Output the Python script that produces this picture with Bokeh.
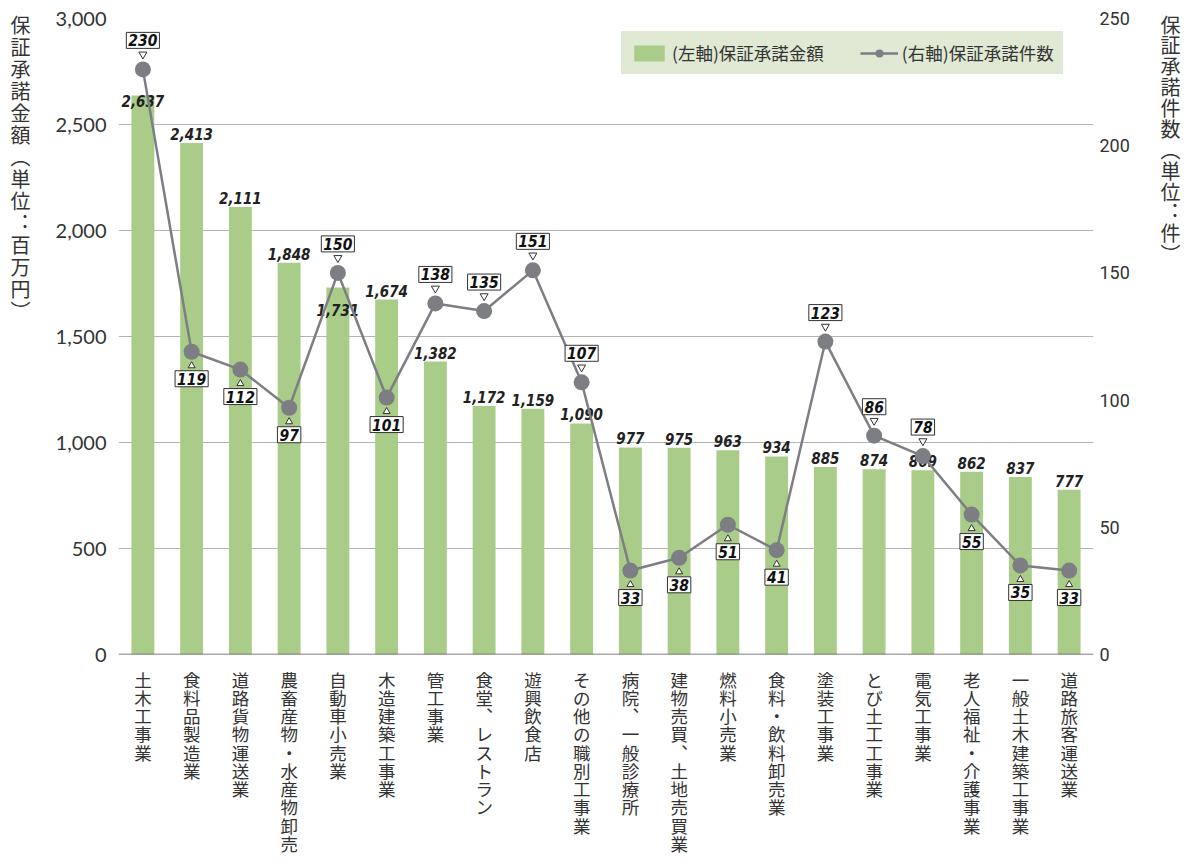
from bokeh.plotting import figure
from bokeh.layouts import row, column
from bokeh.models import (FactorRange, Range1d, LinearAxis, SingleIntervalTicker,
                          NumeralTickFormatter, Legend, LegendItem, ColumnDataSource, Span)
from bokeh.core.properties import value
from bokeh.embed import file_html
from bokeh.resources import INLINE

# ---------------- data ----------------
categories = ["土木工事業", "食料品製造業", "道路貨物運送業", "農畜産物・水産物卸売",
              "自動車小売業", "木造建築工事業", "管工事業", "食堂、レストラン", "遊興飲食店",
              "その他の職別工事業", "病院、一般診療所", "建物売買、土地売買業", "燃料小売業",
              "食料・飲料卸売業", "塗装工事業", "とび土工工事業", "電気工事業",
              "老人福祉・介護事業", "一般土木建築工事業", "道路旅客運送業"]
amounts = [2637, 2413, 2111, 1848, 1731, 1674, 1382, 1172, 1159, 1090,
           977, 975, 963, 934, 885, 874, 869, 862, 837, 777]
counts = [230, 119, 112, 97, 150, 101, 138, 135, 151, 107,
          33, 38, 51, 41, 123, 86, 78, 55, 35, 33]
count_above = [True, False, False, False, True, False, True, True, True, True,
               False, False, False, False, True, True, True, False, False, False]

left_title = "保証承諾金額(単位：百万円)"
right_title = "保証承諾件数(単位：件)"
legend_left = "(左軸)保証承諾金額"
legend_right = "(右軸)保証承諾件数"

# ---------------- style ----------------
BAR = "#a9cd88"
LINE = "#7d7d84"
GRID = "#b4b4b4"
TXT = "#333333"
LEG_BG = "#dfe9d3"
JP = "Noto Sans CJK JP"
NUM = "DejaVu Sans Condensed, Roboto"
# amount labels drawn inside the bar top (px below top); others sit above
inside_offset = {"土木工事業": 0, "自動車小売業": 16}

FRAME_W, FRAME_H = 975, 636
LEFT_W, RIGHT_W = 50, 48
BORDER_L, BORDER_R, BORDER_T, BORDER_B = 68, 50, 18, 12
BOTTOM_H = 863 - BORDER_T - FRAME_H - BORDER_B
TOTAL_H = BORDER_T + FRAME_H + BORDER_B + BOTTOM_H
CMAX = 250
px = CMAX / FRAME_H  # count-units per pixel


def vertical(s):
    rep = {"(": "︵", ")": "︶", "：": "︓", "、": "︑"}
    return "\n".join(rep.get(c, c) for c in s)


src = ColumnDataSource(dict(cat=categories, amount=amounts, count=counts))
xr = FactorRange(*categories)

p = figure(x_range=xr, y_range=Range1d(0, 3000),
           frame_width=FRAME_W, frame_height=FRAME_H,
           min_border_left=BORDER_L, min_border_right=BORDER_R,
           min_border_top=BORDER_T, min_border_bottom=BORDER_B,
           x_axis_location=None,
           output_backend="svg", toolbar_location=None)
p.outline_line_color = None
p.extra_y_ranges = {"count": Range1d(0, CMAX)}

p.xgrid.grid_line_color = None
p.ygrid.grid_line_color = GRID
p.ygrid.grid_line_width = 1.2
p.ygrid.ticker = SingleIntervalTicker(interval=500)

ly = p.yaxis[0]
ly.ticker = SingleIntervalTicker(interval=500)
ly.formatter = NumeralTickFormatter(format="0,0")
ly.axis_line_color = None
ly.major_tick_line_color = None
ly.minor_tick_line_color = None
ly.major_label_text_font = "Lato"
ly.major_label_text_font_size = "20px"
ly.major_label_text_color = TXT
ly.major_label_standoff = 6

ry = LinearAxis(y_range_name="count", ticker=SingleIntervalTicker(interval=50))
ry.axis_line_color = None
ry.major_tick_line_color = None
ry.minor_tick_line_color = None
ry.major_label_text_font = "Roboto"
ry.major_label_text_font_size = "18px"
ry.major_label_text_color = TXT
ry.major_label_standoff = 0
p.add_layout(ry, "right")

# category axis baseline
p.add_layout(Span(location=0, dimension="width", line_color="#555555", line_width=1.6))

bars = p.vbar(x="cat", top="amount", width=0.47, source=src, fill_color=BAR, line_color=None)

# amount labels
groups = {}
for c, a in zip(categories, amounts):
    key = ("top", inside_offset[c]) if c in inside_offset else ("bottom", -3)
    groups.setdefault(key, []).append((c, a))
for (base, off), items in groups.items():
    s = ColumnDataSource(dict(cat=[c for c, _ in items], y=[a for _, a in items],
                              t=[f"{a:,}" for _, a in items]))
    p.text(x="cat", y="y", text="t", source=s, text_align="center", text_baseline=base,
           y_offset=off, text_font=value(NUM), text_font_style="bold italic",
           text_font_size="15px", text_color="#222222")

line = p.line(x="cat", y="count", source=src, y_range_name="count", line_color=LINE, line_width=2.5)
dots = p.scatter(x="cat", y="count", source=src, y_range_name="count", size=16,
                 fill_color=LINE, line_color=None)

# callouts for the count series
PAD = 2
for flag, base, off, marker, tip, msize in ((True, "bottom", -(19 + PAD), "inverted_triangle", 15, 8),
                                            (False, "top", 17 + PAD, "triangle", -14, 7)):
    idx = [i for i, a in enumerate(count_above) if a == flag]
    s = ColumnDataSource(dict(cat=[categories[i] for i in idx], y=[counts[i] for i in idx],
                              ty=[counts[i] + tip * px for i in idx],
                              t=[str(counts[i]) for i in idx]))
    p.text(x="cat", y="y", text="t", source=s, y_range_name="count", text_align="center",
           text_baseline=base, y_offset=off, text_font=value(NUM), text_font_style="bold italic",
           text_font_size="15.5px", text_color="#111111", background_fill_color="white",
           border_line_color="#333333", border_line_width=1, padding=PAD)
    p.scatter(x="cat", y="ty", source=s, y_range_name="count", marker=marker, size=msize,
              fill_color="white", line_color="#333333", line_width=1)

legend = Legend(items=[LegendItem(label=legend_left, renderers=[bars]),
                       LegendItem(label=legend_right, renderers=[line, dots])],
                orientation="horizontal", location=(503, 580),
                background_fill_color=LEG_BG, background_fill_alpha=1,
                border_line_color=LEG_BG, border_line_width=1,
                label_text_font=JP, label_text_font_size="17.5px",
                label_text_color=TXT, glyph_width=38, glyph_height=20, label_height=20,
                spacing=36, padding=8, margin=0, label_standoff=4)
p.add_layout(legend, "center")

# category labels (stacked vertically), sharing the main x range
b = figure(x_range=xr, y_range=Range1d(0, 1), frame_width=FRAME_W, frame_height=BOTTOM_H,
           min_border_left=BORDER_L, min_border_right=BORDER_R, min_border_top=0,
           min_border_bottom=0, x_axis_location=None, y_axis_location=None,
           output_backend="svg", toolbar_location=None)
b.outline_line_color = None
b.grid.visible = False
bsrc = ColumnDataSource(dict(cat=categories, y=[1] * len(categories),
                             t=[vertical(c) for c in categories]))
b.text(x="cat", y="y", text="t", source=bsrc, text_align="center", text_baseline="top",
       y_offset=0, text_font=value(JP), text_font_size="17.5px", text_color=TXT,
       text_line_height=0.73)


def title_fig(width, x, text, lh):
    f = figure(x_range=Range1d(0, width), y_range=Range1d(0, TOTAL_H), width=width,
               height=TOTAL_H, min_border=0, x_axis_location=None, y_axis_location=None,
               output_backend="svg", toolbar_location=None)
    f.outline_line_color = None
    f.grid.visible = False
    f.text(x=[x], y=[TOTAL_H], text=[vertical(text)], text_align="center", text_baseline="top",
           y_offset=9, text_font=value(JP), text_font_size="20px", text_color=TXT,
           text_line_height=lh)
    return f


lf = title_fig(LEFT_W, 20, left_title, 0.76)
rf = title_fig(RIGHT_W, 27, right_title, 0.72)

layout = row(lf, column(p, b, spacing=0), rf, spacing=0)
open("out.html", "w").write(file_html(layout, INLINE))
